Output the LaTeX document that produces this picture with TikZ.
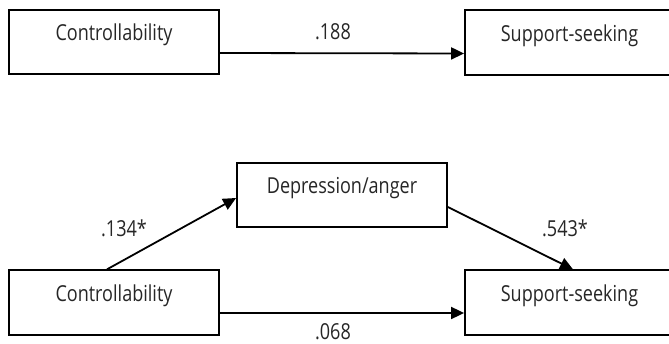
\documentclass[tikz,border=0pt]{standalone}
\usepackage{fontspec}
\setmainfont{Open Sans}[FakeStretch=0.82]
\usetikzlibrary{arrows.meta}
\begin{document}
\begin{tikzpicture}[x=1pt,y=-1pt,
  every node/.style={font=\fontsize{22}{24}\selectfont, text=black!85},
  varbox/.style={draw=black, line width=1.8pt, minimum width=210pt, minimum height=64.5pt,
    inner sep=0pt, text height=15pt, text depth=17pt},
  widebox/.style={varbox, minimum width=230pt},
  coef/.style={anchor=base, inner sep=0pt},
  path/.style={draw=black, line width=1.8pt, -{Triangle[length=13pt,width=12pt]}}]
\useasboundingbox (0,0) rectangle (669,344);
\clip (0,0) rectangle (669,344);
% top model
\node[varbox] (c1) at (114,42) {Controllability};
\node[widebox] (s1) at (580,42.5) {\hspace*{-21pt}Support-seeking};
\draw[path] ([yshift=-11pt]c1.east) -- ([yshift=-11pt]s1.west);
\node[coef] (l188) at (333,40) {.188};
% bottom model
\node[varbox] (d) at (342,195) {Depression/anger};
\node[varbox] (c2) at (114,302.5) {Controllability};
\node[widebox] (s2) at (580,302.5) {\hspace*{-21pt}Support-seeking};
\draw[path] ([xshift=-7pt]c2.north) -- ([yshift=-3pt]d.west);
\draw[path] ([yshift=-12pt]d.east) -- ([xshift=-7pt]s2.north);
\draw[path] ([yshift=-10.5pt]c2.east) -- ([yshift=-10.5pt]s2.west);
\node[coef] (l134) at (124,237) {.134*};
\node[coef] (l543) at (565,237) {.543*};
\node[coef] (l068) at (333,340) {.068};
\end{tikzpicture}
\end{document}
